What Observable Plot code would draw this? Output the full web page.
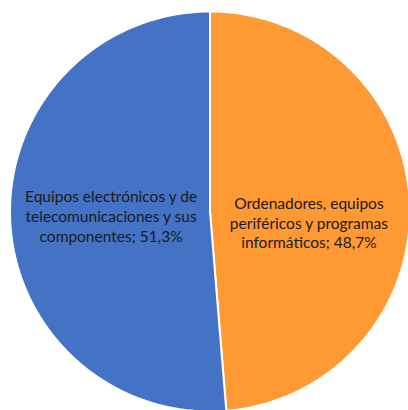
<!DOCTYPE html>
<html><head><meta charset="utf-8">
<script src="https://cdn.jsdelivr.net/npm/d3@7"></script>
<script src="https://cdn.jsdelivr.net/npm/@observablehq/plot@0.6"></script>
<style>html,body{margin:0;padding:0;background:#fff;overflow:hidden}</style>
</head><body><div id="chart"></div>
<script>
const categories = ["Ordenadores, equipos periféricos y programas informáticos", "Equipos electrónicos y de telecomunicaciones y sus componentes"];
const labelLines = [["Ordenadores, equipos", "periféricos y programas", "informáticos; 48,7%"], ["Equipos electrónicos y de", "telecomunicaciones y sus", "componentes; 51,3%"]];
const values = [48.7, 51.3];
const colors = ["#FF9933", "#4472C4"];

const arcs = d3.pie().sort(null).value(d => d)(values);
const slicePts = [];
const labels = [];
arcs.forEach((a, i) => {
  const n = 120;
  slicePts.push({cat: categories[i], x: 0, y: 0});
  for (let k = 0; k <= n; k++) {
    const t = a.startAngle + (a.endAngle - a.startAngle) * k / n;
    slicePts.push({cat: categories[i], x: Math.sin(t), y: Math.cos(t)});
  }
  const m = (a.startAngle + a.endAngle) / 2;
  labels.push({text: labelLines[i].join("\n"), x: 0.495 * Math.sin(m), y: 0.495 * Math.cos(m), i});
});

const textOpts = {x: "x", y: "y", text: "text", fontSize: 15.5, lineHeight: 1.27, fill: "#1a1a1a"};
const chart = Plot.plot({
  width: 408, height: 410,
  margin: 0,
  x: {domain: [-1, 1], range: [9.5, 409.5], axis: null},
  y: {domain: [-1, 1], range: [411, 11], axis: null},
  color: {domain: categories, range: colors},
  marks: [
    Plot.line(slicePts, {x: "x", y: "y", z: "cat", fill: "cat", stroke: "white", strokeWidth: 2, curve: "linear-closed"}),
    Plot.text(labels.filter(d => d.i === 0), {...textOpts, dy: 15}),
    Plot.text(labels.filter(d => d.i === 1), {...textOpts, dy: 0})
  ],
  style: {fontFamily: "Lato, 'Open Sans', sans-serif", background: "white"}
});
document.getElementById("chart").append(chart);
</script></body></html>
